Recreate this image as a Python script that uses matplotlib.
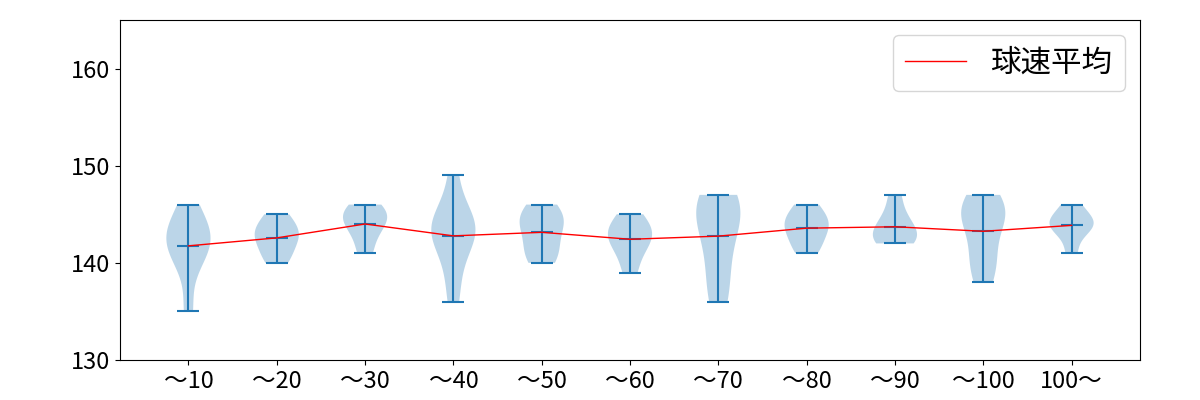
import matplotlib
matplotlib.use('Agg')
import matplotlib.pyplot as plt
import numpy as np

plt.rcParams['font.family'] = ['Noto Sans CJK JP', 'DejaVu Sans']

### data ###
labels = ['～10', '～20', '～30', '～40', '～50', '～60', '～70', '～80', '～90', '～100', '100～']
d10 = [135, 140, 141, 142, 143, 143, 144, 146]
d20 = [140, 141, 142, 143, 143, 144, 145]
d30 = [141, 143, 144, 145, 145, 146]
d40 = [136, 139, 142, 143, 143, 144, 144, 145, 149]
d50 = [140, 141, 142, 144, 144, 145, 146]
d60 = [139, 141, 142, 143, 143, 144, 145]
d70 = [136, 138, 141, 143, 145, 146, 146, 147]
d80 = [141, 142, 143, 144, 144, 145, 146]
d90 = [142, 142, 143, 143, 144, 145, 147]
d100 = [138, 140, 141, 144, 145, 145, 146, 147]
d100p = [141, 143, 144, 144, 144, 145, 146]
data = [d10, d20, d30, d40, d50, d60, d70, d80, d90, d100, d100p]

pos = np.arange(1, len(labels) + 1)
means = [np.mean(d) for d in data]

fig, ax = plt.subplots(figsize=(12, 4), dpi=100)
fig.subplots_adjust(left=0.1, right=0.95, top=0.95, bottom=0.1)
ax.violinplot(data, positions=pos, showmeans=True)
ax.plot(pos, means, color='red', lw=1, label='球速平均')
ax.set_xticks(pos)
ax.set_xticklabels(labels)
ax.set_ylim(130, 165)
ax.set_yticks([130, 140, 150, 160])
ax.tick_params(labelsize=17)
ax.legend(loc='upper right', fontsize=22)
plt.savefig('out.png')
